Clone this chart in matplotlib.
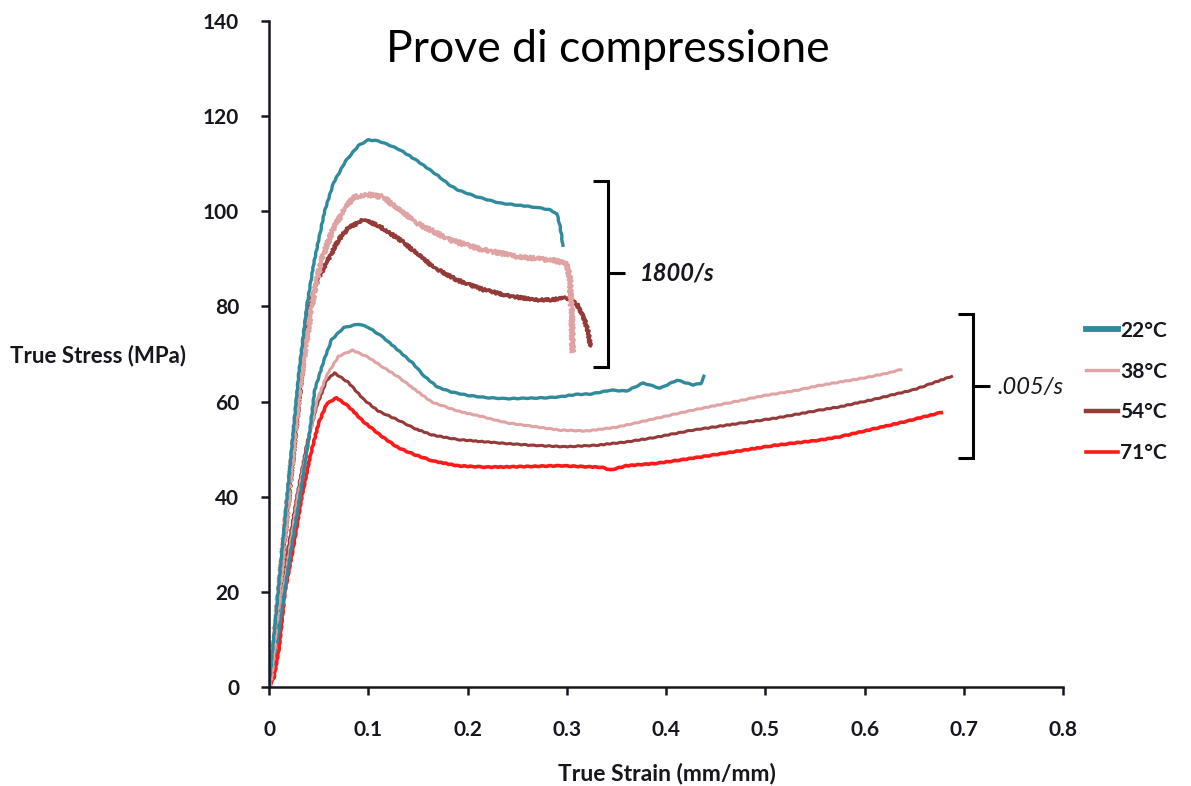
import matplotlib
matplotlib.use('Agg')
import matplotlib.pyplot as plt
from matplotlib.lines import Line2D

# compression tests, true stress (MPa) vs true strain (mm/mm)
temps = ['22°C', '38°C', '54°C', '71°C']
colors = ['#2f8a9c', '#e0a3a3', '#943a38', '#ff1a1a']

# high strain rate (1800/s)
hi_22_x = [0, 0.01, 0.02, 0.03, 0.038, 0.045, 0.056, 0.065, 0.077, 0.09, 0.10, 0.11, 0.12,
           0.132, 0.15, 0.17, 0.182, 0.19, 0.21, 0.233, 0.25, 0.27, 0.283, 0.29, 0.293, 0.295, 0.296]
hi_22_y = [0, 22, 44, 66, 80, 89, 100, 106, 110.5, 113.8, 115, 114.8, 114,
           112.9, 110.5, 107.5, 105.5, 104.5, 103, 101.7, 101.3, 100.8, 100.3, 99.5, 97, 94.5, 92.5]

hi_38_x = [0, 0.01, 0.02, 0.03, 0.043, 0.053, 0.065, 0.075, 0.085, 0.10, 0.115, 0.13, 0.149,
           0.17, 0.182, 0.21, 0.233, 0.25, 0.27, 0.283, 0.30, 0.303, 0.305, 0.306]
hi_38_y = [0, 20, 42, 62, 80, 90, 96.5, 100, 103, 103.5, 103, 100.5, 97.5,
           95.3, 94, 92.2, 91.2, 90.5, 90, 89.8, 89.1, 86, 78, 70.2]

hi_54_x = [0, 0.01, 0.02, 0.03, 0.041, 0.05, 0.06, 0.07, 0.08, 0.095, 0.11, 0.132, 0.15,
           0.165, 0.19, 0.216, 0.24, 0.266, 0.285, 0.30, 0.31, 0.317, 0.321, 0.324]
hi_54_y = [0, 19, 40, 60, 80, 86, 90, 94, 96.5, 98.2, 97, 94, 91,
           88.3, 85.5, 83.5, 82.3, 81.4, 81.4, 81.8, 80.5, 77.8, 75, 71.5]

# low strain rate (.005/s)
lo_22_x = [0, 0.01, 0.02, 0.031, 0.04, 0.046, 0.055, 0.063, 0.075, 0.09, 0.10, 0.115, 0.13,
           0.145, 0.157, 0.17, 0.184, 0.20, 0.22, 0.24, 0.26, 0.28, 0.293, 0.31, 0.325, 0.344,
           0.36, 0.377, 0.394, 0.411, 0.427, 0.435, 0.439]
lo_22_y = [0, 12, 26, 40, 52, 62.4, 68.5, 73, 75.5, 76.3, 75.6, 73.5, 70.8,
           68, 65.2, 63, 62, 61.3, 60.8, 60.6, 60.7, 60.8, 61, 61.5, 61.6, 62.4,
           62.2, 63.9, 62.8, 64.5, 63.5, 63.8, 65.6]

lo_38_x = [0, 0.01, 0.02, 0.029, 0.04, 0.048, 0.058, 0.07, 0.084, 0.10, 0.115, 0.13, 0.147,
           0.164, 0.19, 0.215, 0.24, 0.265, 0.293, 0.32, 0.35, 0.38, 0.427, 0.47, 0.50,
           0.528, 0.555, 0.575, 0.60, 0.62, 0.638]
lo_38_y = [0, 13, 28, 40, 52, 60, 65.5, 69.5, 70.8, 69.3, 67.2, 65.2, 62.5,
           59.9, 58, 56.8, 55.5, 54.8, 54, 53.8, 54.6, 56, 58.2, 60, 61.3,
           62.2, 63.4, 64.1, 65, 65.8, 66.8]

lo_54_x = [0, 0.006, 0.011, 0.02, 0.028, 0.038, 0.048, 0.058, 0.066, 0.08, 0.095, 0.11, 0.13,
           0.147, 0.164, 0.19, 0.231, 0.265, 0.298, 0.33, 0.36, 0.39, 0.427, 0.47, 0.51,
           0.555, 0.575, 0.61, 0.65, 0.689]
lo_54_y = [0, 9, 20, 30, 40, 51, 59, 64.5, 66, 64, 60.5, 58, 56.1,
           54.3, 53, 52, 51.3, 50.8, 50.5, 50.8, 51.5, 52.5, 54, 55.3, 56.5,
           58.2, 58.9, 60.5, 62.5, 65.4]

lo_71_x = [0, 0.005, 0.01, 0.016, 0.025, 0.033, 0.042, 0.05, 0.058, 0.068, 0.08, 0.095, 0.114,
           0.13, 0.147, 0.165, 0.19, 0.22, 0.25, 0.293, 0.32, 0.335, 0.344, 0.36, 0.39,
           0.427, 0.47, 0.51, 0.555, 0.575, 0.61, 0.645, 0.679]
lo_71_y = [0, 2, 8, 20, 30, 40, 49, 55.5, 59.5, 60.8, 59, 55.8, 52.6,
           50.3, 48.8, 47.5, 46.5, 46.2, 46.3, 46.5, 46.3, 46.2, 45.6, 46.5, 47,
           48.1, 49.5, 50.8, 51.9, 52.6, 54.3, 56, 57.8]

x_ticks = [0, 0.1, 0.2, 0.3, 0.4, 0.5, 0.6, 0.7, 0.8]
x_ticklabels = ['0', '0.1', '0.2', '0.3', '0.4', '0.5', '0.6', '0.7', '0.8']
y_ticks = [0, 20, 40, 60, 80, 100, 120, 140]

ink = '#16161e'
plt.rcParams['font.family'] = ['Lato', 'DejaVu Sans']

fig = plt.figure(figsize=(11.91, 7.86), dpi=100)
ax = fig.add_axes([0.2259, 0.126, 0.6667, 0.8473])

# (x, y, colour, width, sketch) - the fast tests are noisier
curves = [
    (lo_71_x, lo_71_y, colors[3], 2.6, (0.35, 8, 2)),
    (lo_54_x, lo_54_y, colors[2], 2.2, (0.35, 8, 2)),
    (lo_38_x, lo_38_y, colors[1], 2.2, (0.35, 8, 2)),
    (lo_22_x, lo_22_y, colors[0], 2.4, (0.3, 10, 2)),
    (hi_54_x, hi_54_y, colors[2], 2.4, (1.4, 3, 2)),
    (hi_38_x, hi_38_y, colors[1], 2.4, (2.0, 3, 2)),
    (hi_22_x, hi_22_y, colors[0], 2.4, (0.3, 10, 2)),
]
for xs, ys, c, lw, sketch in curves:
    ln, = ax.plot(xs, ys, color=c, lw=lw, solid_capstyle='butt', solid_joinstyle='round')
    ln.set_sketch_params(*sketch)

ax.set_xlim(0, 0.8)
ax.set_ylim(0, 140)
ax.set_xticks(x_ticks)
ax.set_xticklabels(x_ticklabels)
ax.set_yticks(y_ticks)
for s in ['top', 'right']:
    ax.spines[s].set_visible(False)
for s in ['left', 'bottom']:
    ax.spines[s].set_linewidth(1.8)
    ax.spines[s].set_color(ink)
ax.tick_params(axis='both', direction='out', length=5.5, width=1.8, color=ink,
               labelsize=15, labelcolor=ink)
ax.tick_params(axis='y', pad=16)
ax.tick_params(axis='x', pad=18)
for lab in ax.get_xticklabels() + ax.get_yticklabels():
    lab.set_fontweight('bold')

fig.text(10 / 1191, 1 - 356 / 786, 'True Stress (MPa)', ha='left', va='center',
         fontsize=16, fontweight='bold', color=ink)
fig.text(667 / 1191, 1 - 773 / 786, 'True Strain (mm/mm)', ha='center', va='center',
         fontsize=16.5, fontweight='bold', color=ink)
fig.text(608 / 1191, 1 - 50 / 786, 'Prove di compressione', ha='center', va='center',
         fontsize=32, color='black')


def bracket(x, y0, y1, ym, stub, tick):
    # square bracket opening to the left with a pointer on the right
    kw = dict(transform=ax.transData, color='black', lw=2.2, clip_on=False,
              solid_capstyle='butt', solid_joinstyle='miter')
    ax.add_line(Line2D([x - stub, x, x, x - stub], [y1, y1, y0, y0], **kw))
    ax.add_line(Line2D([x, x + tick], [ym, ym], **kw))


bracket(0.341, 67.3, 106.4, 87.0, 0.015, 0.018)
bracket(0.709, 48.2, 78.4, 63.2, 0.015, 0.017)
ax.text(0.373, 87.0, '1800/s', ha='left', va='center', fontsize=17,
        fontstyle='italic', fontweight='bold', color=ink)
ax.text(0.734, 63.0, '.005/s', ha='left', va='center', fontsize=17,
        fontstyle='italic', color=ink)

handles = [Line2D([], [], color=colors[0], lw=4.2),
           Line2D([], [], color=colors[1], lw=2.4),
           Line2D([], [], color=colors[2], lw=3.2),
           Line2D([], [], color=colors[3], lw=2.6)]
leg = ax.legend(handles, temps, loc='center left', bbox_to_anchor=(1086 / 1191, 1 - 392 / 786),
                bbox_transform=fig.transFigure, frameon=False, fontsize=15,
                handlelength=1.55, handletextpad=0.1, labelspacing=1.0,
                borderpad=0, borderaxespad=0)
for t in leg.get_texts():
    t.set_fontweight('bold')
    t.set_color(ink)

fig.savefig('out.png', dpi=100)
